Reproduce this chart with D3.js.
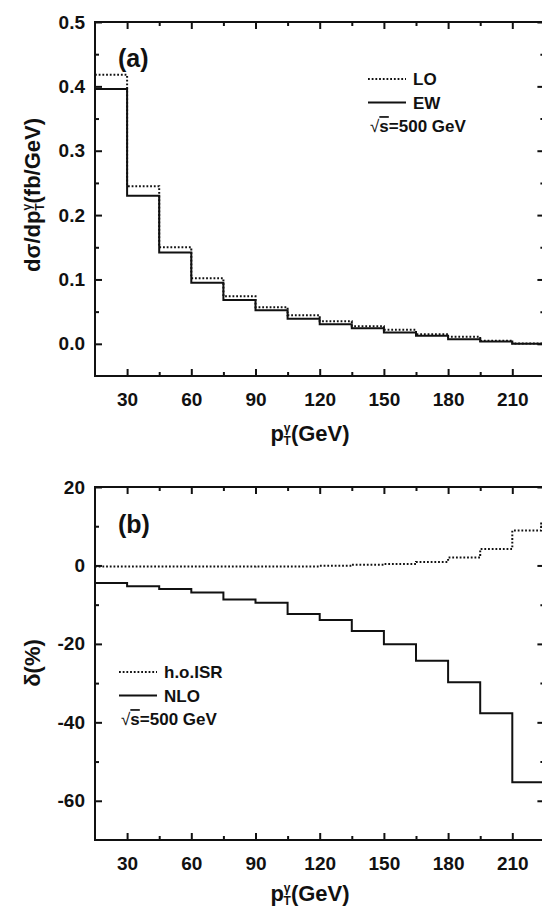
<html>
<head>
<meta charset="utf-8">
<script src="https://d3js.org/d3.v7.min.js"></script>
<style>
  body { margin: 0; background: #fff; }
  text { font-family: "Liberation Sans", Arial, sans-serif; font-weight: bold; fill: #111; }
</style>
</head>
<body>
<svg id="chart" width="542" height="910"></svg>
<script>
// bin edges in GeV
const binEdges = [15, 30, 45, 60, 75, 90, 105, 120, 135, 150, 165, 180, 195, 210, 225];
// panel (a): d sigma / d pT (fb/GeV)
const loVals = [0.418, 0.245, 0.150, 0.102, 0.074, 0.057, 0.0445, 0.035, 0.0274, 0.0218, 0.015, 0.011, 0.0047, 0.0005];
const ewVals = [0.396, 0.230, 0.142, 0.095, 0.068, 0.052, 0.039, 0.0305, 0.0243, 0.0176, 0.0125, 0.0072, 0.0036, 0.0];
// panel (b): relative corrections (%)
const isrEdges = [15, 30, 45, 60, 75, 90, 105, 120, 135, 150, 165, 180, 195, 210, 223.5, 225];
const isrVals = [-0.3, -0.3, -0.3, -0.3, -0.3, -0.25, -0.25, -0.1, 0.2, 0.4, 0.9, 2.0, 4.2, 8.9, 10.7];
const nloVals = [-4.5, -5.3, -6.0, -6.9, -8.7, -9.5, -12.4, -13.9, -16.7, -20.1, -24.3, -29.8, -37.7, -55.3];

const xMajor = [30, 60, 90, 120, 150, 180, 210];
const xMinor = [45, 75, 105, 135, 165, 195];
const aMajor = [0, 0.1, 0.2, 0.3, 0.4, 0.5];
const aMinor = [0.05, 0.15, 0.25, 0.35, 0.45];
const bMajor = [-60, -40, -20, 0, 20];
const bMinor = [-50, -30, -10, 10];

const svg = d3.select("#chart");
const x = d3.scaleLinear().domain([15, 225]).range([95, 544.4]);

function stepPoints(edges, vals) {
  let pts = vals.map((v, i) => [edges[i], v]);
  pts.push([edges[edges.length - 1], vals[vals.length - 1]]);
  return pts;
}

function panel(opts) {
  const y = opts.y;
  const g = svg.append("g");
  const x0 = x.range()[0], x1 = x.range()[1];
  const y0 = y.range()[0], y1 = y.range()[1];
  const id = "clip" + opts.name;
  svg.append("clipPath").attr("id", id)
    .append("rect").attr("x", x0).attr("y", y1).attr("width", x1 - x0).attr("height", y0 - y1);

  // series
  const line = d3.line().x(d => x(d[0])).y(d => y(d[1])).curve(d3.curveStepAfter);
  opts.series.forEach(s => {
    g.append("path")
      .attr("clip-path", "url(#" + id + ")")
      .attr("d", line(stepPoints(s.edges, s.vals)))
      .attr("fill", "none")
      .attr("stroke", "#111")
      .attr("stroke-width", 2)
      .attr("stroke-dasharray", s.dotted ? "1.8,1.9" : null);
  });

  // axes with inward ticks
  g.append("g").attr("transform", `translate(0,${y0})`)
    .call(d3.axisBottom(x).tickValues(xMajor).tickSize(-7).tickPadding(17).tickFormat(d => String(d)));
  g.append("g").attr("transform", `translate(0,${y0})`)
    .call(d3.axisBottom(x).tickValues(xMinor).tickSize(-4).tickFormat(""));
  g.append("g").attr("transform", `translate(0,${y1})`)
    .call(d3.axisTop(x).tickValues(xMajor).tickSize(-7).tickFormat(""));
  g.append("g").attr("transform", `translate(0,${y1})`)
    .call(d3.axisTop(x).tickValues(xMinor).tickSize(-4).tickFormat(""));
  g.append("g").attr("transform", `translate(${x0},0)`)
    .call(d3.axisLeft(y).tickValues(opts.major).tickSize(-7).tickPadding(10).tickFormat(opts.fmt));
  g.append("g").attr("transform", `translate(${x0},0)`)
    .call(d3.axisLeft(y).tickValues(opts.minor).tickSize(-4).tickFormat(""));
  g.append("g").attr("transform", `translate(${x1},0)`)
    .call(d3.axisRight(y).tickValues(opts.major).tickSize(-7).tickFormat(""));
  g.append("g").attr("transform", `translate(${x1},0)`)
    .call(d3.axisRight(y).tickValues(opts.minor).tickSize(-4).tickFormat(""));

  g.selectAll(".domain").remove();
  g.selectAll(".tick line").attr("stroke", "#111").attr("stroke-width", 2);
  g.selectAll(".tick text").attr("font-size", 19).attr("fill", "#111")
    .style("font-family", "'Liberation Sans', Arial, sans-serif").style("font-weight", "bold");

  // frame
  g.append("rect").attr("x", x0).attr("y", y1).attr("width", x1 - x0).attr("height", y0 - y1)
    .attr("fill", "none").attr("stroke", "#111").attr("stroke-width", 2);

  // panel tag
  g.append("text").attr("x", 118).attr("y", opts.tagY).attr("font-size", 25).text(opts.tag);

  // legend
  opts.legend.forEach((l, i) => {
    const ly = opts.legY + i * opts.legStep;
    if (l.dotted !== undefined) {
      g.append("line").attr("x1", opts.legX).attr("x2", opts.legX + 38).attr("y1", ly).attr("y2", ly)
        .attr("stroke", "#111").attr("stroke-width", 2)
        .attr("stroke-dasharray", l.dotted ? "1.8,1.9" : null);
      g.append("text").attr("x", opts.legX + 45).attr("y", ly).attr("dy", "0.36em")
        .attr("font-size", 17).text(l.label);
    } else {
      const t = g.append("text").attr("x", opts.legX + 2).attr("y", ly).attr("dy", "0.36em").attr("font-size", 17);
      t.append("tspan").style("font-weight", "normal").text("\u221A");
      t.append("tspan").attr("text-decoration", "overline").text("s");
      t.append("tspan").text("=500 GeV");
    }
  });

  // x title
  const xt = g.append("text").attr("x", 310).attr("y", y0 + opts.titleOff).attr("text-anchor", "middle").attr("font-size", 22);
  xt.append("tspan").text("p");
  xt.append("tspan").attr("font-size", 12).attr("dy", -9).text("\u03B3");
  xt.append("tspan").attr("font-size", 12).attr("dx", -7).attr("dy", 13).text("T");
  xt.append("tspan").attr("dy", -4).text("(GeV)");
}

panel({
  name: "a",
  y: d3.scaleLinear().domain([-0.05, 0.5]).range([376, 22]),
  major: aMajor, minor: aMinor, fmt: d3.format(".1f"),
  series: [
    { edges: binEdges, vals: loVals, dotted: true },
    { edges: binEdges, vals: ewVals, dotted: false }
  ],
  tag: "(a)", tagY: 67, titleOff: 65,
  legX: 368, legY: 79, legStep: 23.5,
  legend: [{ label: "LO", dotted: true }, { label: "EW", dotted: false }, { label: "sqrt" }]
});

panel({
  name: "b",
  y: d3.scaleLinear().domain([-70, 20]).range([840, 487]),
  major: bMajor, minor: bMinor, fmt: d => String(d),
  series: [
    { edges: isrEdges, vals: isrVals, dotted: true },
    { edges: binEdges, vals: nloVals, dotted: false }
  ],
  tag: "(b)", tagY: 533, titleOff: 61,
  legX: 119, legY: 672, legStep: 23.5,
  legend: [{ label: "h.o.ISR", dotted: true }, { label: "NLO", dotted: false }, { label: "sqrt" }]
});

// y titles
const yt = svg.append("text").attr("transform", "translate(40,195) rotate(-90)")
  .attr("text-anchor", "middle").attr("font-size", 22);
yt.append("tspan").text("d\u03C3/dp");
yt.append("tspan").attr("font-size", 12).attr("dy", -9).text("\u03B3");
yt.append("tspan").attr("font-size", 12).attr("dx", -7).attr("dy", 13).text("T");
yt.append("tspan").attr("dy", -4).text("(fb/GeV)");

svg.append("text").attr("transform", "translate(40,663) rotate(-90)")
  .attr("text-anchor", "middle").attr("font-size", 22).text("\u03B4(%)");
</script>
</body>
</html>
